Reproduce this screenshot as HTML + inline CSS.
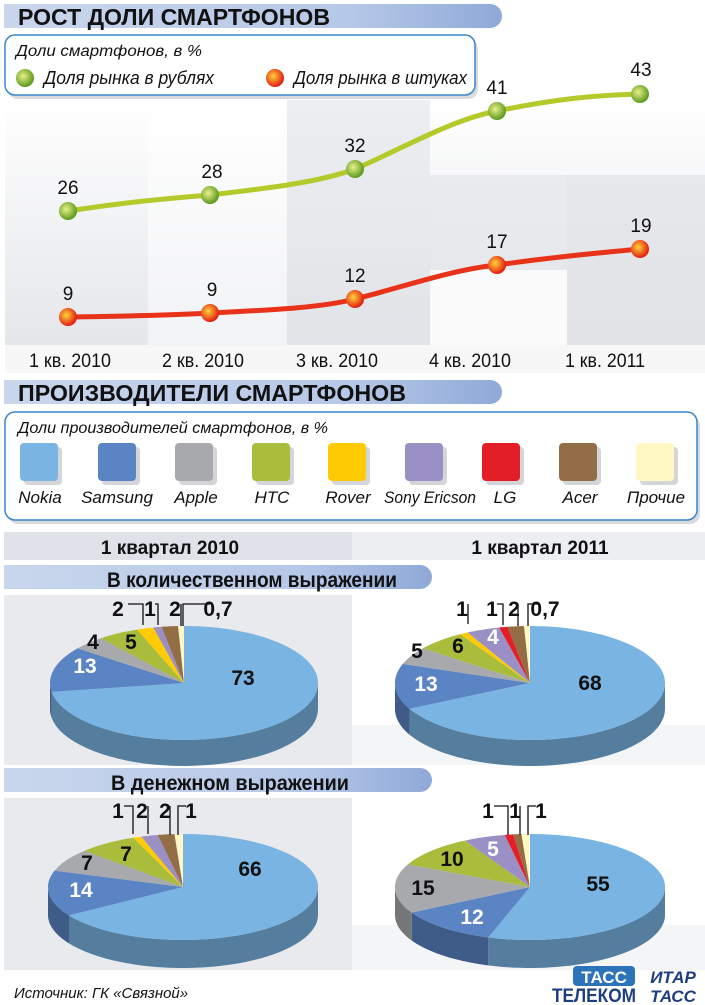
<!DOCTYPE html>
<html><head><meta charset="utf-8"><style>
body{margin:0;background:#fff;}
svg{display:block;font-family:"Liberation Sans","DejaVu Sans",sans-serif;}
.t{font-weight:bold;}
</style></head><body>
<svg id="s" width="705" height="1005" viewBox="0 0 705 1005" xmlns="http://www.w3.org/2000/svg">
<defs>
<linearGradient id="bar" x1="0" y1="0" x2="1" y2="0">
<stop offset="0" stop-color="#c9d6ec"/><stop offset="0.7" stop-color="#b6c8e8"/><stop offset="1" stop-color="#8fa9d8"/></linearGradient>
<linearGradient id="bg" x1="0" y1="0" x2="0" y2="1"><stop offset="0" stop-color="#fff"/><stop offset="1" stop-color="#e4e6ea"/></linearGradient>
<radialGradient id="gg" cx="0.4" cy="0.4" r="0.6"><stop offset="0" stop-color="#e9f08a"/><stop offset="1" stop-color="#5c9a1c"/></radialGradient>
<radialGradient id="rg" cx="0.4" cy="0.4" r="0.6"><stop offset="0" stop-color="#ffd23a"/><stop offset="1" stop-color="#e21d12"/></radialGradient>
</defs>
<path d="M4 4 H490 a12 12 0 0 1 12 12 v0 a12 12 0 0 1 -12 12 H4 Z" fill="url(#bar)"/>
<text x="18" y="25" class="t" font-size="23" fill="#111" textLength="312" lengthAdjust="spacingAndGlyphs">РОСТ ДОЛИ СМАРТФОНОВ</text>
<rect x="5" y="100" width="700" height="245" fill="url(#bg)"/>
<rect x="148" y="100" width="139" height="245" fill="#fff" opacity="0.5"/>
<rect x="287" y="100" width="143" height="245" fill="#e0e2e6" opacity="0.6"/>
<rect x="430" y="175" width="137" height="95" fill="#e4e6ea" opacity="0.7"/>
<rect x="567" y="175" width="138" height="170" fill="#dfe1e5" opacity="0.7"/>
<rect x="430" y="270" width="137" height="75" fill="#fafafa"/>
<rect x="5" y="345" width="700" height="28" fill="#f7f7f8"/>
<rect x="8" y="39" width="470" height="60" rx="10" fill="#d8dadd"/>
<rect x="5" y="35" width="470" height="60" rx="10" fill="#fff" stroke="#3a86c8" stroke-width="1.5"/>
<text x="16" y="56" font-size="16" font-style="italic" fill="#111" textLength="186" lengthAdjust="spacingAndGlyphs">Доли смартфонов, в %</text>
<circle cx="25" cy="78" r="9" fill="url(#gg)"/>
<text x="44" y="84" font-size="18" font-style="italic" fill="#111" textLength="170" lengthAdjust="spacingAndGlyphs">Доля рынка в рублях</text>
<circle cx="275" cy="78" r="9" fill="url(#rg)"/>
<text x="294" y="84" font-size="18" font-style="italic" fill="#111" textLength="173" lengthAdjust="spacingAndGlyphs">Доля рынка в штуках</text>
<path d="M68 211 C120 203 160 199 210 195 C270 188 320 182 355 169 C400 150 450 120 497 111 C560 98 600 95 640 94" fill="none" stroke="#b4c92a" stroke-width="5"/>
<path d="M68 317 C120 316 160 316 210 313 C270 310 320 308 355 299 C400 288 450 270 497 265 C560 256 600 253 640 249" fill="none" stroke="#e8331a" stroke-width="5"/>
<g fill="url(#gg)"><circle cx="68" cy="211" r="9"/><circle cx="210" cy="195" r="9"/><circle cx="355" cy="169" r="9"/><circle cx="497" cy="111" r="9"/><circle cx="640" cy="94" r="9"/></g>
<g fill="url(#rg)"><circle cx="68" cy="317" r="9"/><circle cx="210" cy="313" r="9"/><circle cx="355" cy="299" r="9"/><circle cx="497" cy="265" r="9"/><circle cx="640" cy="249" r="9"/></g>
<g font-size="19" fill="#111" text-anchor="middle">
<text x="68" y="194">26</text><text x="212" y="178">28</text><text x="355" y="152">32</text><text x="497" y="94">41</text><text x="641" y="76">43</text>
<text x="68" y="300">9</text><text x="212" y="296">9</text><text x="355" y="282">12</text><text x="497" y="248">17</text><text x="641" y="232">19</text>
<text x="70" y="367" textLength="82" lengthAdjust="spacingAndGlyphs">1 кв. 2010</text><text x="203" y="367" textLength="82" lengthAdjust="spacingAndGlyphs">2 кв. 2010</text><text x="337" y="367" textLength="82" lengthAdjust="spacingAndGlyphs">3 кв. 2010</text><text x="470" y="367" textLength="82" lengthAdjust="spacingAndGlyphs">4 кв. 2010</text><text x="605" y="367" textLength="80" lengthAdjust="spacingAndGlyphs">1 кв. 2011</text>
</g>
<path d="M4 380 H490 a12 12 0 0 1 12 12 v0 a12 12 0 0 1 -12 12 H4 Z" fill="url(#bar)"/>
<text x="18" y="401" class="t" font-size="23" fill="#111" textLength="388" lengthAdjust="spacingAndGlyphs">ПРОИЗВОДИТЕЛИ СМАРТФОНОВ</text>
<rect x="8" y="416" width="692" height="108" rx="10" fill="#d8dadd"/>
<rect x="5" y="412" width="692" height="108" rx="10" fill="#fff" stroke="#3a86c8" stroke-width="1.5"/>
<text x="18" y="433" font-size="16" font-style="italic" fill="#111" textLength="310" lengthAdjust="spacingAndGlyphs">Доли производителей смартфонов, в %</text>
<g id="lg"></g>
<g font-size="17" font-style="italic" fill="#111" text-anchor="middle">
<text x="40" y="503">Nokia</text><text x="117" y="503">Samsung</text><text x="196" y="503">Apple</text><text x="272" y="503">HTC</text><text x="348" y="503">Rover</text><text x="430" y="503" textLength="92" lengthAdjust="spacingAndGlyphs">Sony Ericson</text><text x="505" y="503">LG</text><text x="580" y="503">Acer</text><text x="656" y="503">Прочие</text>
</g>
<rect x="4" y="532" width="348" height="28" fill="#dfe2e8"/>
<rect x="352" y="532" width="353" height="28" fill="#eceef2"/>
<text x="170" y="554" class="t" font-size="19" text-anchor="middle" fill="#111">1 квартал 2010</text>
<text x="540" y="554" class="t" font-size="19" text-anchor="middle" fill="#111">1 квартал 2011</text>
<path d="M4 565 H420 a12 12 0 0 1 12 12 v0 a12 12 0 0 1 -12 12 H4 Z" fill="url(#bar)"/>
<text x="252" y="587" class="t" font-size="21" text-anchor="middle" fill="#111" textLength="290" lengthAdjust="spacingAndGlyphs">В количественном выражении</text>
<rect x="4" y="595" width="348" height="170" fill="#e8eaee"/>
<rect x="352" y="725" width="353" height="40" fill="#f4f5f7"/>
<path d="M4 768 H420 a12 12 0 0 1 12 12 v0 a12 12 0 0 1 -12 12 H4 Z" fill="url(#bar)"/>
<text x="230" y="790" class="t" font-size="21" text-anchor="middle" fill="#111" textLength="238" lengthAdjust="spacingAndGlyphs">В денежном выражении</text>
<rect x="4" y="798" width="348" height="172" fill="#e8eaee"/>
<rect x="352" y="925" width="353" height="45" fill="#f4f5f7"/>
<g id="pies"></g>
<g fill="none" stroke="#111" stroke-width="1.3">
<path d="M128 604 H143 V625"/><path d="M155 604 H158 V625"/><path d="M181 604 V626"/><path d="M210 604 H183 V626"/>
<path d="M468 604 V624"/><path d="M497 604 H503 V625"/><path d="M518 604 V626"/><path d="M538 604 H528 V626"/>
<path d="M124 806 H133 V834"/><path d="M148 806 V834"/><path d="M170 806 V835"/><path d="M186 806 H178 V835"/>
<path d="M494 806 H508 V835"/><path d="M520 806 V835"/><path d="M536 806 H528 V835"/>
</g>
<g class="t" font-size="21" fill="#111" text-anchor="middle">
<text x="243" y="685">73</text><text x="93" y="649">4</text><text x="131" y="649">5</text>
<text x="118" y="616">2</text><text x="150" y="616">1</text><text x="175" y="616">2</text><text x="218" y="616">0,7</text>
<text x="590" y="690">68</text><text x="417" y="658">5</text><text x="458" y="653">6</text>
<text x="462" y="616">1</text><text x="492" y="616">1</text><text x="514" y="616">2</text><text x="545" y="616">0,7</text>
<text x="250" y="876">66</text><text x="87" y="870">7</text><text x="126" y="861">7</text>
<text x="118" y="818">1</text><text x="142" y="818">2</text><text x="165" y="818">2</text><text x="191" y="818">1</text>
<text x="598" y="891">55</text><text x="423" y="895">15</text><text x="452" y="866">10</text>
<text x="488" y="818">1</text><text x="515" y="818">1</text><text x="541" y="818">1</text>
</g>
<g class="t" font-size="21" fill="#fff" text-anchor="middle">
<text x="85" y="673">13</text><text x="426" y="691">13</text><text x="493" y="644">4</text>
<text x="81" y="897">14</text><text x="472" y="924">12</text><text x="493" y="856">5</text>
</g>
<text x="14" y="998" font-size="15" font-style="italic" fill="#111">Источник: ГК «Связной»</text>
<rect x="573" y="966" width="62" height="20" rx="4" fill="#2d73b9"/>
<text x="604" y="983" class="t" font-size="17" fill="#fff" text-anchor="middle">ТАСС</text>
<text x="594" y="1002" class="t" font-size="19" fill="#1d3f80" text-anchor="middle" textLength="84" lengthAdjust="spacingAndGlyphs">ТЕЛЕКОМ</text>
<text x="673" y="983" class="t" font-size="17" font-style="italic" fill="#1d3f80" text-anchor="middle">ИТАР</text>
<text x="673" y="1002" class="t" font-size="17" font-style="italic" fill="#1d3f80" text-anchor="middle">ТАСС</text>
</svg>
<script>
var NS="http://www.w3.org/2000/svg";
var cols=["#79b4e2","#5b84c5","#a7a9ac","#a9bc3b","#ffcb05","#9a90c5","#e31e26","#926d45","#fff8c4"];
var lg=document.getElementById("lg");
var xs=[20,98,175,252,328,405,482,559,636];
xs.forEach(function(x,i){
 var r=document.createElementNS(NS,"rect");r.setAttribute("x",x+4);r.setAttribute("y",447);r.setAttribute("width",38);r.setAttribute("height",38);r.setAttribute("rx",4);r.setAttribute("fill","#d3d5d8");lg.appendChild(r);
 r=document.createElementNS(NS,"rect");r.setAttribute("x",x);r.setAttribute("y",443);r.setAttribute("width",38);r.setAttribute("height",38);r.setAttribute("rx",4);r.setAttribute("fill",cols[i]);lg.appendChild(r);
});
function dark(c,f){var n=parseInt(c.slice(1),16);var r=(n>>16)*f|0,g=((n>>8)&255)*f|0,b=(n&255)*f|0;return "rgb("+r+","+g+","+b+")";}
function pie(cx,cy,rx,ry,d,data){
 var g=document.getElementById("pies");var tot=data.reduce(function(a,b){return a+b},0);
 function pt(a,dy){return [cx+rx*Math.sin(a),cy-ry*Math.cos(a)+(dy||0)];}
 var a0=0,segs=[];
 data.forEach(function(v,i){var a1=a0+v/tot*2*Math.PI;segs.push([a0,a1,i]);a0=a1;});
 segs.forEach(function(s){
  var lo=Math.max(s[0],Math.PI/2),hi=Math.min(s[1],3*Math.PI/2);
  if(hi<=lo)return;var p=[],N=40,k;
  for(k=0;k<=N;k++){p.push(pt(lo+(hi-lo)*k/N));}
  for(k=N;k>=0;k--){p.push(pt(lo+(hi-lo)*k/N,d));}
  var e=document.createElementNS(NS,"path");
  e.setAttribute("d","M"+p.map(function(q){return q[0].toFixed(1)+" "+q[1].toFixed(1)}).join(" L")+"Z");
  e.setAttribute("fill",dark(cols[s[2]],0.7));g.appendChild(e);
 });
 segs.forEach(function(s){
  if(s[1]-s[0]<1e-6)return;var p=[[cx,cy]],N=Math.max(4,Math.ceil((s[1]-s[0])*40)),k;
  for(k=0;k<=N;k++)p.push(pt(s[0]+(s[1]-s[0])*k/N));
  var e=document.createElementNS(NS,"path");
  e.setAttribute("d","M"+p.map(function(q){return q[0].toFixed(1)+" "+q[1].toFixed(1)}).join(" L")+"Z");
  e.setAttribute("fill",cols[s[2]]);g.appendChild(e);
 });
}
pie(184,683,134,57,26,[73,13,4,5,2,1,0,2,0.7]);
pie(530,683,135,57,26,[68,13,5,6,1,4,1,2,0.7]);
pie(183,887,135,53,28,[66,14,7,7,1,2,0,2,1]);
pie(530,887,135,53,28,[55,12,15,10,0,5,1,1,1]);
</script>
</body></html>
